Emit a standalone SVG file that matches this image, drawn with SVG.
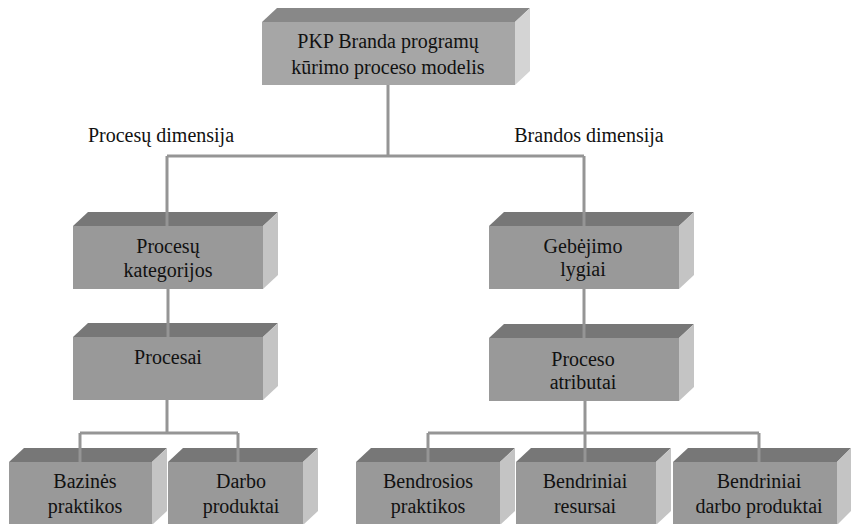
<svg xmlns="http://www.w3.org/2000/svg" width="851" height="524" viewBox="0 0 851 524">
<style>
.front{fill:#999999}
.top{fill:#777777}
.side{fill:#c4c4c4}
.t0 .front{fill:#a6a6a6}
.t0 .top{fill:#888888}
.t0 .side{fill:#d4d4d4}
text{font-family:'Liberation Serif','DejaVu Serif',serif;font-size:20px;fill:#111;text-anchor:middle}
.conn line{stroke:#959595;stroke-width:3;fill:none}
</style>
<rect width="851" height="524" fill="#ffffff"/>
<g id="n-top" class="t0">
<polygon class="top" points="262,22 277,8 530,8 515,22"/>
<polygon class="side" points="515,22 530,8 530,71 515,85"/>
<rect class="front" x="262" y="22" width="253" height="63"/>
<text x="388" y="48">PKP Branda programų</text>
<text x="388" y="74">kūrimo proceso modelis</text>
</g>
<g id="n-kat">
<polygon class="top" points="73,226 88,212 278,212 263,226"/>
<polygon class="side" points="263,226 278,212 278,275 263,289"/>
<rect class="front" x="73" y="226" width="190" height="63"/>
<text x="168" y="253">Procesų</text>
<text x="168" y="277">kategorijos</text>
</g>
<g id="n-proc">
<polygon class="top" points="73,337 88,323 278,323 263,337"/>
<polygon class="side" points="263,337 278,323 278,386 263,400"/>
<rect class="front" x="73" y="337" width="190" height="63"/>
<text x="168" y="364">Procesai</text>
</g>
<g id="n-geb">
<polygon class="top" points="489,226 504,212 694,212 679,226"/>
<polygon class="side" points="679,226 694,212 694,275 679,289"/>
<rect class="front" x="489" y="226" width="190" height="63"/>
<text x="583" y="253">Gebėjimo</text>
<text x="583" y="276">lygiai</text>
</g>
<g id="n-atr">
<polygon class="top" points="489,338 504,324 694,324 679,338"/>
<polygon class="side" points="679,338 694,324 694,387 679,401"/>
<rect class="front" x="489" y="338" width="190" height="63"/>
<text x="583" y="366">Proceso</text>
<text x="583" y="389">atributai</text>
</g>
<g id="n-baz">
<polygon class="top" points="9,462 24,448 167,448 152,462"/>
<polygon class="side" points="152,462 167,448 167,511 152,525"/>
<rect class="front" x="9" y="462" width="143" height="63"/>
<text x="85" y="488">Bazinės</text>
<text x="85" y="513">praktikos</text>
</g>
<g id="n-darbo">
<polygon class="top" points="168,462 183,448 318,448 303,462"/>
<polygon class="side" points="303,462 318,448 318,511 303,525"/>
<rect class="front" x="168" y="462" width="135" height="63"/>
<text x="241" y="488">Darbo</text>
<text x="241" y="513">produktai</text>
</g>
<g id="n-bendp">
<polygon class="top" points="356,462 371,448 515,448 500,462"/>
<polygon class="side" points="500,462 515,448 515,511 500,525"/>
<rect class="front" x="356" y="462" width="144" height="63"/>
<text x="428" y="488">Bendrosios</text>
<text x="428" y="513">praktikos</text>
</g>
<g id="n-bres">
<polygon class="top" points="516,462 531,448 671,448 656,462"/>
<polygon class="side" points="656,462 671,448 671,511 656,525"/>
<rect class="front" x="516" y="462" width="140" height="63"/>
<text x="585" y="488">Bendriniai</text>
<text x="585" y="513">resursai</text>
</g>
<g id="n-bdp">
<polygon class="top" points="673,462 688,448 851,448 837,462"/>
<polygon class="side" points="837,462 851,448 851,511 837,525"/>
<rect class="front" x="673" y="462" width="164" height="63"/>
<text x="759" y="488">Bendriniai</text>
<text x="759" y="513">darbo produktai</text>
</g>
<g id="labels">
<text x="161" y="142">Procesų dimensija</text>
<text x="589" y="142">Brandos dimensija</text>
</g>
<g id="connectors" class="conn">
<line x1="388" y1="85" x2="388" y2="156"/>
<line x1="167" y1="156" x2="584" y2="156"/>
<line x1="167" y1="156" x2="167" y2="226"/>
<line x1="584" y1="156" x2="584" y2="226"/>
<line x1="168" y1="289" x2="168" y2="337"/>
<line x1="584" y1="289" x2="584" y2="338"/>
<line x1="167" y1="400" x2="167" y2="433"/>
<line x1="80" y1="433" x2="238" y2="433"/>
<line x1="80" y1="433" x2="80" y2="462"/>
<line x1="238" y1="433" x2="238" y2="462"/>
<line x1="585" y1="401" x2="585" y2="462"/>
<line x1="428" y1="433" x2="759" y2="433"/>
<line x1="428" y1="433" x2="428" y2="462"/>
<line x1="759" y1="433" x2="759" y2="462"/>
</g>
</svg>
